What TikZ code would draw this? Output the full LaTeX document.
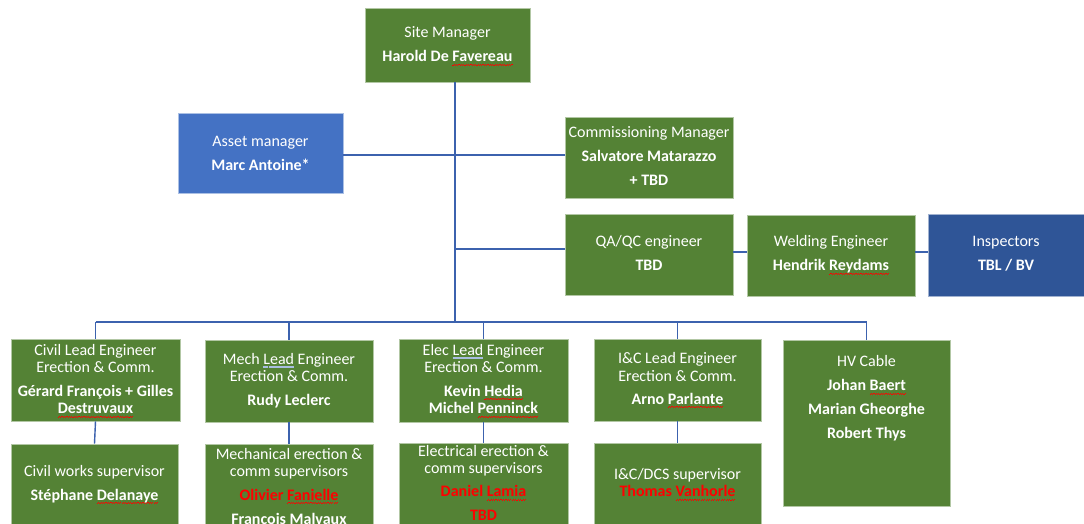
\documentclass[tikz,border=0pt]{standalone}
\usepackage{fontspec}
\setmainfont{Carlito}
\definecolor{boxgreen}{HTML}{548235}
\definecolor{assetblue}{HTML}{4472C4}
\definecolor{inspblue}{HTML}{2F5597}
\definecolor{linkblue}{HTML}{3C62AE}
\definecolor{alertred}{HTML}{FF0000}
\definecolor{dblline}{HTML}{A9BEE0}
\newsavebox\wordbox
% wavy proofing mark under a word
\newcommand\spellmark{\hbox{\rule[-3.6pt]{1.2pt}{0.45pt}\rule[-2.8pt]{1.2pt}{0.45pt}}}
\newcommand\spell[1]{\sbox\wordbox{#1}\rlap{\color{red}\hbox to \wd\wordbox{\xleaders\spellmark\hfil}}\usebox\wordbox}
% double underline mark
\newcommand\dblmark{\hbox{\rule[-2.4pt]{1pt}{0.5pt}\llap{\rule[-3.8pt]{1pt}{0.5pt}}}}
\newcommand\dbl[1]{\sbox\wordbox{#1}\rlap{\color{dblline}\hbox to \wd\wordbox{\xleaders\dblmark\hfil}}\usebox\wordbox}
\begin{document}
\begin{tikzpicture}[x=1pt,y=-1pt,
  orgcard/.style={rectangle, inner sep=0pt, fill=boxgreen, draw=white!55!boxgreen, line width=0.6pt},
  bluecard/.style={orgcard, fill=assetblue, draw=white!55!assetblue},
  darkcard/.style={orgcard, fill=inspblue, draw=white!55!inspblue},
  link/.style={draw=linkblue, line width=1.4pt},
  txt/.style={text=white, anchor=base, inner sep=0pt, font=\fontsize{16}{18}\selectfont},
  person/.style={txt, font=\bfseries\fontsize{16}{18}\selectfont},
  redperson/.style={person, text=alertred}]
\clip (0,0) rectangle (1084,523);
\fill[white] (0,0) rectangle (1084,523);

% #1 name, #2 #3 top-left corner, #4 #5 bottom-right corner, #6 style
\newcommand\orgbox[6]{\node[#6, minimum width={(#4-#2)*1pt}, minimum height={(#5-#3)*1pt}]
  (#1) at ({(#2+#4)/2},{(#3+#5)/2}) {};}

% boxes
\orgbox{site}{365}{8}{530}{82}{orgcard}
\orgbox{asset}{178}{113}{343}{193}{bluecard}
\orgbox{comm}{565}{117}{733}{198}{orgcard}
\orgbox{qa}{565}{214}{733}{295}{orgcard}
\orgbox{weld}{747}{215}{915}{296}{orgcard}
\orgbox{insp}{928}{214}{1092}{296}{darkcard}
\orgbox{civilL}{11}{339}{180}{421}{orgcard}
\orgbox{mechL}{205}{340}{373}{422}{orgcard}
\orgbox{elecL}{399}{339}{568}{422}{orgcard}
\orgbox{icL}{594}{339}{761}{421}{orgcard}
\orgbox{hv}{783}{340}{950}{506}{orgcard}
\orgbox{civilS}{11}{444}{178}{540}{orgcard}
\orgbox{mechS}{205}{444}{373}{540}{orgcard}
\orgbox{elecS}{399}{443}{568}{540}{orgcard}
\orgbox{icS}{594}{443}{761}{540}{orgcard}

% junction points on the reporting lines
\coordinate (bus) at (455,322);
\coordinate (assetY) at (0,155);
\coordinate (qaY) at (0,249);
\coordinate (weldY) at (0,252);

% connectors
\draw[link] (site.south -| bus) -- (bus);
\draw[link] (asset.east |- assetY) -- (comm.west |- assetY);
\draw[link] (bus |- qaY) -- (qa.west |- qaY);
\draw[link] (qa.east |- weldY) -- (weld.west |- weldY);
\draw[link] (weld.east |- weldY) -- (insp.west |- weldY);
\draw[link] (civilL.north |- bus) -- (hv.north |- bus);
\draw[link] (civilL.north |- bus) -- (civilL.north);
\draw[link] (mechL.north |- bus) -- (mechL.north);
\draw[link] (elecL.north |- bus) -- (elecL.north);
\draw[link] (icL.north |- bus) -- (icL.north);
\draw[link] (hv.north |- bus) -- (hv.north);
\draw[link] (civilL.south) -- (civilS.north);
\draw[link] (mechL.south) -- (mechS.north);
\draw[link] (elecL.south) -- (elecS.north);
\draw[link] (icL.south) -- (icS.north);

% labels
\node[txt]    (siteT) at (site.center |- 0,37.5) {Site Manager};
\node[person] (siteN) at (site.center |- 0,61.5) {Harold De \spell{Favereau}};

\node[txt]    (assetT) at (asset.center |- 0,146.5) {Asset manager};
\node[person] (assetN) at (asset.center |- 0,170) {Marc Antoine*};

\node[txt]    (commT) at (comm.center |- 0,137) {Commissioning Manager};
\node[person] (commN) at (comm.center |- 0,161) {Salvatore Matarazzo};
\node[person] (commM) at (comm.center |- 0,185) {+ TBD};

\node[txt]    (qaT) at (qa.center |- 0,246.5) {QA/QC engineer};
\node[person] (qaN) at (qa.center |- 0,270.5) {TBD};

\node[txt]    (weldT) at (weld.center |- 0,246.5) {Welding Engineer};
\node[person] (weldN) at (weld.center |- 0,270.5) {Hendrik \spell{Reydams}};

\node[txt]    (inspT) at (1006,246.5) {Inspectors};
\node[person] (inspN) at (1006,270.5) {TBL / BV};

\node[txt]    (civilT1) at (civilL.center |- 0,355) {Civil Lead Engineer};
\node[txt]    (civilT2) at (civilL.center |- 0,372.5) {Erection \& Comm.};
\node[person] (civilN1) at (civilL.center |- 0,396) {Gérard François + Gilles};
\node[person] (civilN2) at (civilL.center |- 0,413.5) {\spell{Destruvaux}};

\node[txt]    (mechT1) at (mechL.center |- 0,364) {Mech \dbl{Lead} Engineer};
\node[txt]    (mechT2) at (mechL.center |- 0,381.5) {Erection \& Comm.};
\node[person] (mechN) at (mechL.center |- 0,405) {Rudy Leclerc};

\node[txt]    (elecT1) at (elecL.center |- 0,355) {Elec \dbl{Lead} Engineer};
\node[txt]    (elecT2) at (elecL.center |- 0,372.5) {Erection \& Comm.};
\node[person] (elecN1) at (elecL.center |- 0,396) {Kevin \spell{Hedia}};
\node[person] (elecN2) at (elecL.center |- 0,413.5) {Michel \spell{Penninck}};

\node[txt]    (icT1) at (icL.center |- 0,363.5) {I\&C Lead Engineer};
\node[txt]    (icT2) at (icL.center |- 0,381) {Erection \& Comm.};
\node[person] (icN) at (icL.center |- 0,404) {Arno \spell{Parlante}};

\node[txt]    (hvT) at (hv.center |- 0,366.5) {HV Cable};
\node[person] (hvN1) at (hv.center |- 0,390.5) {Johan \spell{Baert}};
\node[person] (hvN2) at (hv.center |- 0,414.5) {Marian Gheorghe};
\node[person] (hvN3) at (hv.center |- 0,438.5) {Robert Thys};

\node[txt]    (civilST) at (civilS.center |- 0,476.5) {Civil works supervisor};
\node[person] (civilSN) at (civilS.center |- 0,500) {Stéphane \spell{Delanaye}};

\node[txt]    (mechST1) at (mechS.center |- 0,459) {Mechanical erection \&};
\node[txt]    (mechST2) at (mechS.center |- 0,476.5) {comm supervisors};
\node[redperson] (mechSN1) at (mechS.center |- 0,500) {Olivier \spell{Fanielle}};
\node[person] (mechSN2) at (mechS.center |- 0,524) {François Malvaux};

\node[txt]    (elecST1) at (elecS.center |- 0,456) {Electrical erection \&};
\node[txt]    (elecST2) at (elecS.center |- 0,473.5) {comm supervisors};
\node[redperson] (elecSN1) at (elecS.center |- 0,496.5) {Daniel \spell{Lamia}};
\node[redperson] (elecSN2) at (elecS.center |- 0,520) {TBD};

\node[txt]    (icST) at (icS.center |- 0,479) {I\&C/DCS supervisor};
\node[redperson] (icSN) at (icS.center |- 0,496.5) {Thomas \spell{Vanhorle}};
\end{tikzpicture}
\end{document}
